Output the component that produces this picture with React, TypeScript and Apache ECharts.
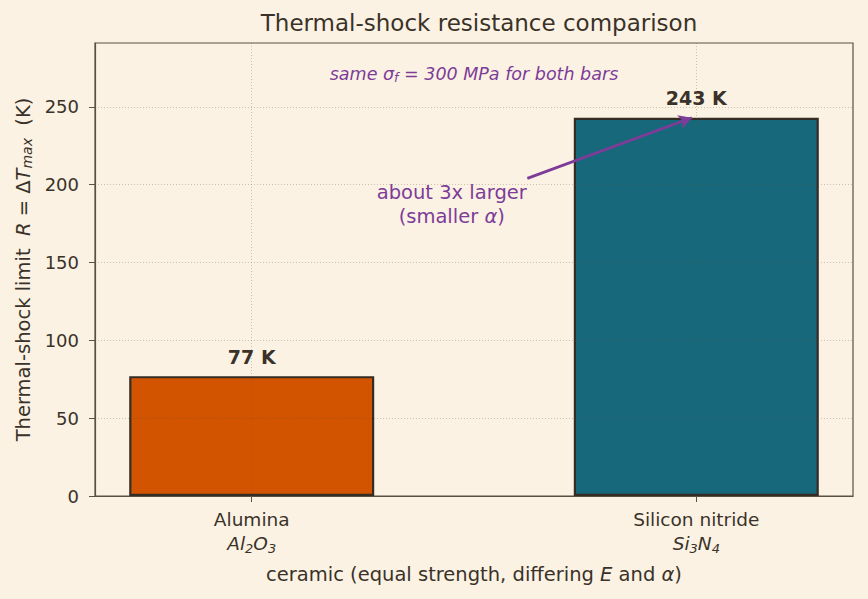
import React, { useEffect, useRef } from "react";
import * as echarts from "echarts";

const categories = ["Alumina", "Silicon nitride"];
const formulas = ["{i|Al}{s|2}{i|O}{s|3}", "{i|Si}{s|3}{i|N}{s|4}"];
const categoryPos = [0, 1];
const values = [77, 243];
const barColors = ["#D35400", "#17687A"];
const yTicks = [0, 50, 100, 150, 200, 250];
const arrowFrom = [0.62, 204];
const arrowTo = [0.99, 243];
const arrowTextAt = [0.45, 187];
const noteAt = [0.5, 271];

const BG = "#FBF2E4";
const INK = "#3a3228";
const FRAME = "#5b5142";
const PURPLE = "#7D3C98";
const GRIDC = "rgba(90,80,60,0.38)";
const FONT = "DejaVu Sans";

export default function App() {
  const ref = useRef<HTMLDivElement>(null);
  useEffect(() => {
    const chart = echarts.init(ref.current!, null, { renderer: "svg" });
    const sub = { fontSize: 13, fontStyle: "italic", verticalAlign: "bottom", padding: [7, 0, 0, 0], fontFamily: FONT, color: INK };
    chart.setOption({
      animation: false,
      backgroundColor: BG,
      textStyle: { fontFamily: FONT },
      title: {
        text: "Thermal-shock resistance comparison",
        left: 474,
        textAlign: "center",
        top: 6,
        textStyle: { fontSize: 23, fontWeight: "normal", color: INK, fontFamily: FONT },
      },
      grid: {
        left: 95,
        right: 15,
        top: 43,
        bottom: 103,
        show: true,
        borderColor: FRAME,
        borderWidth: 1.2,
        backgroundColor: "transparent",
      },
      xAxis: {
        type: "value",
        z: 5,
        min: -0.3525,
        max: 1.3525,
        name: "ceramic (equal strength, differing {i|E} and {i|α})",
        nameLocation: "middle",
        nameGap: 68,
        nameTextStyle: {
          fontSize: 19.5,
          color: INK,
          fontFamily: FONT,
          rich: { i: { fontStyle: "italic", fontSize: 19.5, color: INK, fontFamily: FONT } },
        },
        axisLine: { show: true, onZero: false, lineStyle: { color: FRAME, width: 1.2 } },
        axisTick: { show: true, customValues: categoryPos, length: 6, lineStyle: { color: FRAME } },
        axisLabel: {
          customValues: categoryPos,
          margin: 11,
          color: INK,
          fontSize: 18.5,
          lineHeight: 24,
          formatter: (v: number) => {
            const idx = categoryPos.indexOf(Math.round(v));
            if (idx < 0) return "";
            return categories[idx] + "\n" + formulas[idx];
          },
          rich: {
            i: { fontStyle: "italic", fontSize: 18.5, color: INK, fontFamily: FONT },
            s: sub,
          },
        },
        splitLine: { show: true, lineStyle: { color: GRIDC, type: [1, 2], width: 0.8 } },
      },
      yAxis: {
        type: "value",
        z: 5,
        min: 0,
        max: 291,
        interval: 50,
        name: "Thermal-shock limit  {i|R} = Δ{i|T}{s|max}  (K)",
        nameLocation: "middle",
        nameGap: 60,
        nameRotate: 90,
        nameTextStyle: {
          fontSize: 19.5,
          color: INK,
          fontFamily: FONT,
          rich: {
            i: { fontStyle: "italic", fontSize: 19.5, color: INK, fontFamily: FONT },
            s: { ...sub, fontSize: 14 },
          },
        },
        axisLine: { show: true, onZero: false, lineStyle: { color: FRAME, width: 1.2 } },
        axisTick: { show: true, customValues: yTicks, length: 6, lineStyle: { color: FRAME } },
        axisLabel: { customValues: yTicks, color: INK, fontSize: 18, margin: 16 },
        splitLine: { show: true, lineStyle: { color: GRIDC, type: [1, 2], width: 0.8 } },
      },
      series: [
        {
          type: "bar",
          barWidth: 245,
          data: values.map((v, i) => ({
            value: [categoryPos[i], v],
            itemStyle: { color: barColors[i], borderColor: "#352d24", borderWidth: 2.2 },
          })),
          label: {
            show: true,
            position: "top",
            distance: 10,
            formatter: (p: any) => `${p.value[1]} K`,
            fontSize: 19,
            fontWeight: "bold",
            color: INK,
            fontFamily: FONT,
          },
          markLine: {
            silent: true,
            symbol: ["none", "arrow"],
            symbolSize: [11, 13],
            label: { show: false },
            lineStyle: { color: PURPLE, width: 2.8, type: "solid" },
            data: [[{ coord: arrowFrom }, { coord: arrowTo }]],
          },
          markPoint: {
            silent: true,
            symbol: "circle",
            symbolSize: 0,
            data: [
              {
                coord: arrowTextAt,
                label: {
                  show: true,
                  position: "inside",
                  formatter: "about 3x larger\n(smaller {i|α})",
                  color: PURPLE,
                  fontSize: 19.5,
                  lineHeight: 24,
                  align: "center",
                  fontFamily: FONT,
                  rich: { i: { fontStyle: "italic", color: PURPLE, fontSize: 19.5, fontFamily: FONT } },
                },
              },
              {
                coord: noteAt,
                label: {
                  show: true,
                  position: "inside",
                  formatter: "same σ{s|f} = 300 MPa for both bars",
                  color: PURPLE,
                  fontSize: 17.5,
                  fontStyle: "italic",
                  fontFamily: FONT,
                  rich: {
                    s: { fontSize: 12.5, fontStyle: "italic", color: PURPLE, verticalAlign: "bottom", padding: [7, 0, 0, 0], fontFamily: FONT },
                  },
                },
              },
            ],
          },
        },
      ],
    });
    return () => chart.dispose();
  }, []);
  return <div ref={ref} style={{ width: 868, height: 599, position: "fixed", left: 0, top: 0 }} />;
}
